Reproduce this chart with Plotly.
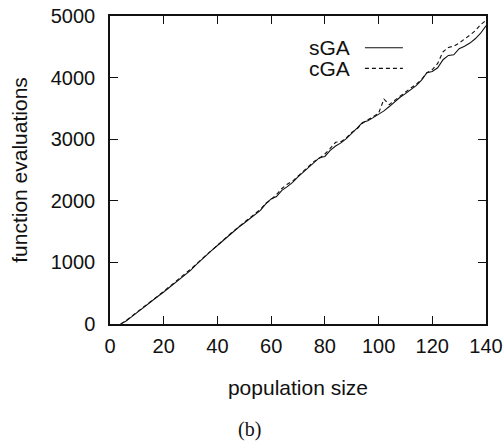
import plotly.graph_objects as go

pop_size = list(range(4, 141, 2))

sga = [0, 50, 115, 185, 250, 315, 385, 455, 520, 590,
       660, 730, 790, 870, 960, 1045, 1120, 1200, 1275, 1350,
       1430, 1510, 1575, 1640, 1710, 1790, 1845, 1950, 2030, 2070,
       2170, 2230, 2300, 2390, 2470, 2550, 2620, 2700, 2720, 2820,
       2890, 2940, 3010, 3090, 3180, 3270, 3300, 3350, 3400, 3460,
       3530, 3610, 3680, 3740, 3810, 3870, 3960, 4080, 4100, 4160,
       4290, 4360, 4370, 4470, 4510, 4560, 4630, 4720, 4840]

cga = [0, 55, 125, 190, 260, 330, 395, 460, 530, 600,
       670, 745, 810, 890, 965, 1050, 1130, 1200, 1280, 1355,
       1440, 1510, 1580, 1650, 1720, 1790, 1860, 1960, 2020, 2100,
       2200, 2270, 2320, 2400, 2480, 2550, 2640, 2690, 2760, 2850,
       2950, 2960, 3020, 3110, 3170, 3260, 3310, 3360, 3420, 3650,
       3560, 3630, 3700, 3760, 3830, 3890, 3970, 4080, 4130, 4230,
       4420, 4490, 4510, 4560, 4620, 4690, 4760, 4860, 4930]

x_ticks = [0, 20, 40, 60, 80, 100, 120, 140]
y_ticks = [0, 1000, 2000, 3000, 4000, 5000]
series_names = ["sGA", "cGA"]

FONT = "Liberation Sans, Arial, sans-serif"
INK = "#111111"

fig = go.Figure()
fig.add_trace(go.Scatter(x=pop_size, y=sga, mode="lines", name=series_names[0],
                         line=dict(color=INK, width=1.1), showlegend=False))
fig.add_trace(go.Scatter(x=pop_size, y=cga, mode="lines", name=series_names[1],
                         line=dict(color=INK, width=1.1, dash="4px,3px"), showlegend=False))

axis_common = dict(
    showline=True, linecolor=INK, linewidth=1.5, mirror="ticks",
    ticks="inside", ticklen=8, tickwidth=1.2, tickcolor=INK,
    showgrid=False, zeroline=False, automargin=False,
    tickfont=dict(family=FONT, size=20, color=INK),
)

fig.update_layout(
    width=503, height=441,
    margin=dict(l=110, r=17, t=16, b=117),
    paper_bgcolor="white", plot_bgcolor="white",
    xaxis=dict(range=[0, 140], tickvals=x_ticks, ticklabeloverflow="allow", ticklabelstandoff=3,
               title=dict(text="population size", font=dict(family=FONT, size=21, color=INK), standoff=25),
               **axis_common),
    yaxis=dict(range=[0, 5000], tickvals=y_ticks, ticklabelstandoff=9,
               title=dict(text="function evaluations", font=dict(family=FONT, size=21, color=INK), standoff=17),
               **axis_common),
)

# legend (gnuplot style: label then sample)
leg_y = [0.897, 0.830]
for name, yy, dash in zip(series_names, leg_y, ["solid", "4px,3px"]):
    fig.add_annotation(x=0.644, y=yy, xref="paper", yref="paper", text=name,
                       showarrow=False, xanchor="right", yanchor="middle", height=19,
                       font=dict(family=FONT, size=21, color=INK))
    fig.add_shape(type="line", xref="paper", yref="paper", x0=0.678, x1=0.779, y0=yy, y1=yy,
                  line=dict(color=INK, width=1.1, dash=dash))

fig.add_annotation(x=0.372, y=-0.344, xref="paper", yref="paper", text="(b)",
                   showarrow=False, xanchor="center", yanchor="middle",
                   font=dict(family="Liberation Serif, Times New Roman, serif", size=20, color=INK))

fig.write_html("out.html")
